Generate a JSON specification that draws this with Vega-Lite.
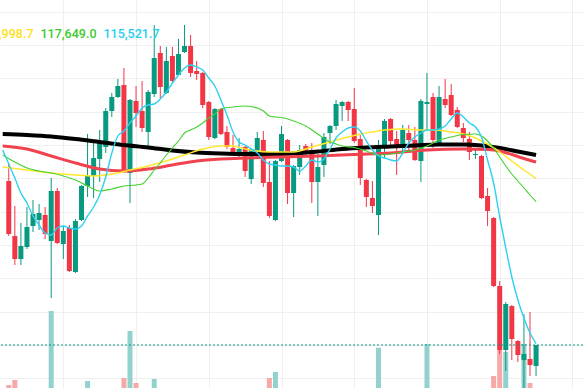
{
 "$schema": "https://vega.github.io/schema/vega-lite/v6.json",
 "width": 583, "height": 388, "padding": 0,
 "autosize": {"type": "none"},
 "background": "#FFFFFF",
 "config": {"view": {"stroke": null}, "axis": {"title": null, "labels": false, "ticks": false, "domain": false, "gridColor": "#EFEFEF", "gridWidth": 1}},
 "datasets": {
  "candles": [
   {"i":3,"o":117960,"h":118230,"l":117135,"c":117165,"v":1060},
   {"i":4,"o":117135,"h":117585,"l":116700,"c":116790,"v":1160},
   {"i":5,"o":116790,"h":117330,"l":116700,"c":116985,"v":700},
   {"i":6,"o":116970,"h":117570,"l":116940,"c":117270,"v":650},
   {"i":7,"o":117285,"h":117675,"l":117195,"c":117465,"v":600},
   {"i":8,"o":117375,"h":117615,"l":117225,"c":117480,"v":550},
   {"i":9,"o":117450,"h":117570,"l":117090,"c":117165,"v":620},
   {"i":10,"o":117060,"h":118005,"l":116205,"c":117810,"v":2540},
   {"i":11,"o":117810,"h":117855,"l":117015,"c":117030,"v":900},
   {"i":12,"o":117015,"h":117285,"l":116790,"c":117210,"v":700},
   {"i":13,"o":117255,"h":117300,"l":116595,"c":116610,"v":850},
   {"i":14,"o":116595,"h":117390,"l":116580,"c":117360,"v":950},
   {"i":15,"o":117375,"h":117900,"l":117360,"c":117885,"v":900},
   {"i":16,"o":117885,"h":118665,"l":117720,"c":118035,"v":1140},
   {"i":17,"o":118035,"h":118545,"l":117705,"c":118305,"v":800},
   {"i":18,"o":118290,"h":118725,"l":117945,"c":118530,"v":750},
   {"i":19,"o":118470,"h":119055,"l":118380,"c":119010,"v":950},
   {"i":20,"o":119010,"h":119280,"l":118920,"c":119220,"v":700},
   {"i":21,"o":119220,"h":119490,"l":119205,"c":119385,"v":650},
   {"i":22,"o":119400,"h":119655,"l":118095,"c":118110,"v":1200},
   {"i":23,"o":118080,"h":119190,"l":117630,"c":119175,"v":2140},
   {"i":24,"o":119160,"h":119385,"l":118770,"c":118980,"v":1100},
   {"i":25,"o":119010,"h":119460,"l":118695,"c":118755,"v":800},
   {"i":26,"o":118695,"h":119325,"l":118470,"c":119295,"v":850},
   {"i":27,"o":119265,"h":120300,"l":119220,"c":119805,"v":1180},
   {"i":28,"o":119880,"h":119985,"l":119190,"c":119370,"v":900},
   {"i":29,"o":119280,"h":119970,"l":119265,"c":119760,"v":700},
   {"i":30,"o":119835,"h":119970,"l":119430,"c":119460,"v":650},
   {"i":31,"o":119550,"h":120090,"l":119535,"c":119865,"v":600},
   {"i":32,"o":119895,"h":120300,"l":119880,"c":119985,"v":750},
   {"i":33,"o":119985,"h":120150,"l":119520,"c":119580,"v":800},
   {"i":34,"o":119610,"h":119760,"l":119475,"c":119565,"v":500},
   {"i":35,"o":119580,"h":119595,"l":119055,"c":119100,"v":650},
   {"i":36,"o":119145,"h":119160,"l":118575,"c":118620,"v":850},
   {"i":37,"o":118605,"h":119055,"l":118590,"c":119040,"v":700},
   {"i":38,"o":119040,"h":119055,"l":118650,"c":118665,"v":600},
   {"i":39,"o":118695,"h":118785,"l":118440,"c":118470,"v":550},
   {"i":40,"o":118455,"h":118650,"l":118380,"c":118380,"v":450},
   {"i":41,"o":118380,"h":118605,"l":118290,"c":118440,"v":400},
   {"i":42,"o":118470,"h":118485,"l":118020,"c":118110,"v":600},
   {"i":43,"o":117990,"h":118455,"l":117915,"c":118440,"v":650},
   {"i":44,"o":118395,"h":118695,"l":118305,"c":118605,"v":500},
   {"i":45,"o":118575,"h":118710,"l":117870,"c":117930,"v":800},
   {"i":46,"o":117945,"h":118260,"l":117405,"c":117435,"v":1200},
   {"i":47,"o":117375,"h":118275,"l":117360,"c":118260,"v":1320},
   {"i":48,"o":118260,"h":118785,"l":118245,"c":118665,"v":850},
   {"i":49,"o":118575,"h":118590,"l":117615,"c":117780,"v":900},
   {"i":50,"o":117780,"h":118200,"l":117420,"c":118185,"v":750},
   {"i":51,"o":118170,"h":118500,"l":118050,"c":118425,"v":500},
   {"i":52,"o":118485,"h":118515,"l":118320,"c":118410,"v":400},
   {"i":53,"o":118425,"h":118530,"l":117630,"c":117945,"v":700},
   {"i":54,"o":117945,"h":118365,"l":117435,"c":118170,"v":650},
   {"i":55,"o":118200,"h":118680,"l":118020,"c":118620,"v":700},
   {"i":56,"o":118680,"h":118800,"l":118515,"c":118785,"v":450},
   {"i":57,"o":118785,"h":119175,"l":118725,"c":119115,"v":650},
   {"i":58,"o":119085,"h":119160,"l":118860,"c":119145,"v":500},
   {"i":59,"o":119145,"h":119160,"l":118860,"c":119025,"v":450},
   {"i":60,"o":119040,"h":119355,"l":118530,"c":118560,"v":800},
   {"i":61,"o":118590,"h":118650,"l":117900,"c":118005,"v":850},
   {"i":62,"o":117975,"h":117990,"l":117570,"c":117720,"v":600},
   {"i":63,"o":117705,"h":117960,"l":117480,"c":117585,"v":550},
   {"i":64,"o":117450,"h":118575,"l":117150,"c":118485,"v":1806},
   {"i":65,"o":118455,"h":118890,"l":118305,"c":118860,"v":800},
   {"i":66,"o":118890,"h":118905,"l":118500,"c":118560,"v":600},
   {"i":67,"o":118590,"h":118710,"l":118050,"c":118455,"v":650},
   {"i":68,"o":118455,"h":118800,"l":118380,"c":118725,"v":550},
   {"i":69,"o":118680,"h":118800,"l":118425,"c":118575,"v":450},
   {"i":70,"o":118575,"h":118770,"l":118260,"c":118275,"v":600},
   {"i":71,"o":118260,"h":119190,"l":117945,"c":119160,"v":950},
   {"i":72,"o":119115,"h":119580,"l":118725,"c":119145,"v":1880},
   {"i":73,"o":119220,"h":119280,"l":118455,"c":118575,"v":900},
   {"i":74,"o":118530,"h":119385,"l":118515,"c":119220,"v":850},
   {"i":75,"o":119190,"h":119490,"l":119055,"c":119100,"v":550},
   {"i":76,"o":119250,"h":119415,"l":118935,"c":118950,"v":600},
   {"i":77,"o":119025,"h":119070,"l":118755,"c":118770,"v":500},
   {"i":78,"o":118755,"h":118830,"l":118545,"c":118605,"v":450},
   {"i":79,"o":118590,"h":118695,"l":118275,"c":118395,"v":550},
   {"i":80,"o":118350,"h":118455,"l":118290,"c":118365,"v":400},
   {"i":81,"o":118335,"h":118350,"l":117690,"c":117705,"v":950},
   {"i":82,"o":117735,"h":117855,"l":117285,"c":117510,"v":700},
   {"i":83,"o":117405,"h":117420,"l":116370,"c":116385,"v":1240},
   {"i":84,"o":116385,"h":116460,"l":115365,"c":115425,"v":1760},
   {"i":85,"o":115425,"h":116145,"l":115110,"c":116115,"v":1720},
   {"i":86,"o":116085,"h":116100,"l":115275,"c":115590,"v":950},
   {"i":87,"o":115560,"h":115575,"l":115245,"c":115350,"v":800},
   {"i":88,"o":115275,"h":115965,"l":114800,"c":115365,"v":1880},
   {"i":89,"o":115290,"h":115995,"l":115035,"c":115200,"v":1100},
   {"i":90,"o":115185,"h":115500,"l":115035,"c":115500,"v":600}
  ],
  "ma": [
   {"s":"MA200","i":2,"p":118665},{"s":"MA200","i":6,"p":118650},{"s":"MA200","i":10,"p":118627.5},{"s":"MA200","i":14,"p":118590},{"s":"MA200","i":18,"p":118545},{"s":"MA200","i":22,"p":118500},{"s":"MA200","i":26,"p":118462.5},{"s":"MA200","i":30,"p":118417.5},{"s":"MA200","i":34,"p":118387.5},{"s":"MA200","i":38,"p":118372.5},{"s":"MA200","i":42,"p":118365},{"s":"MA200","i":46,"p":118365},{"s":"MA200","i":50,"p":118372.5},{"s":"MA200","i":54,"p":118402.5},{"s":"MA200","i":58,"p":118440},{"s":"MA200","i":62,"p":118462.5},{"s":"MA200","i":66,"p":118477.5},{"s":"MA200","i":70,"p":118492.5},{"s":"MA200","i":74,"p":118507.5},{"s":"MA200","i":78,"p":118507.5},{"s":"MA200","i":81,"p":118492.5},{"s":"MA200","i":84,"p":118455},{"s":"MA200","i":87,"p":118402.5},{"s":"MA200","i":90,"p":118350.4},
   {"s":"MA100","i":2,"p":118485},{"s":"MA100","i":6,"p":118440},{"s":"MA100","i":10,"p":118335},{"s":"MA100","i":14,"p":118230},{"s":"MA100","i":18,"p":118140},{"s":"MA100","i":22,"p":118110},{"s":"MA100","i":26,"p":118140},{"s":"MA100","i":30,"p":118200},{"s":"MA100","i":34,"p":118260},{"s":"MA100","i":38,"p":118290},{"s":"MA100","i":42,"p":118305},{"s":"MA100","i":48,"p":118320},{"s":"MA100","i":54,"p":118335},{"s":"MA100","i":60,"p":118357.5},{"s":"MA100","i":66,"p":118380},{"s":"MA100","i":72,"p":118425},{"s":"MA100","i":78,"p":118440},{"s":"MA100","i":82,"p":118432.5},{"s":"MA100","i":84,"p":118410},{"s":"MA100","i":86,"p":118357.5},{"s":"MA100","i":88,"p":118297.5},{"s":"MA100","i":90,"p":118245.2},
   {"s":"MA50","i":2,"p":118170},{"s":"MA50","i":6,"p":118125},{"s":"MA50","i":10,"p":118080},{"s":"MA50","i":14,"p":118050},{"s":"MA50","i":17,"p":118035},{"s":"MA50","i":20,"p":118065},{"s":"MA50","i":23,"p":118125},{"s":"MA50","i":26,"p":118185},{"s":"MA50","i":29,"p":118260},{"s":"MA50","i":32,"p":118350},{"s":"MA50","i":35,"p":118440},{"s":"MA50","i":38,"p":118485},{"s":"MA50","i":40,"p":118485},{"s":"MA50","i":42,"p":118440},{"s":"MA50","i":46,"p":118395},{"s":"MA50","i":50,"p":118395},{"s":"MA50","i":53,"p":118470},{"s":"MA50","i":56,"p":118545},{"s":"MA50","i":59,"p":118620},{"s":"MA50","i":61,"p":118665},{"s":"MA50","i":63,"p":118695},{"s":"MA50","i":65,"p":118725},{"s":"MA50","i":68,"p":118740},{"s":"MA50","i":71,"p":118725},{"s":"MA50","i":73,"p":118725},{"s":"MA50","i":76,"p":118695},{"s":"MA50","i":78,"p":118665},{"s":"MA50","i":80,"p":118605},{"s":"MA50","i":81,"p":118560},{"s":"MA50","i":82,"p":118515},{"s":"MA50","i":84,"p":118395},{"s":"MA50","i":86,"p":118260},{"s":"MA50","i":88,"p":118125},{"s":"MA50","i":90,"p":117998.7},
   {"s":"MA25","i":2,"p":118350},{"s":"MA25","i":4,"p":118245},{"s":"MA25","i":6,"p":118155},{"s":"MA25","i":8,"p":118110},{"s":"MA25","i":10,"p":118080},{"s":"MA25","i":12,"p":118035},{"s":"MA25","i":14,"p":117975},{"s":"MA25","i":16,"p":117885},{"s":"MA25","i":18,"p":117810},{"s":"MA25","i":20,"p":117840},{"s":"MA25","i":22,"p":117885},{"s":"MA25","i":24,"p":117900},{"s":"MA25","i":25,"p":117915},{"s":"MA25","i":26,"p":118005},{"s":"MA25","i":27,"p":118125},{"s":"MA25","i":28,"p":118230},{"s":"MA25","i":29,"p":118350},{"s":"MA25","i":30,"p":118455},{"s":"MA25","i":31,"p":118560},{"s":"MA25","i":32,"p":118680},{"s":"MA25","i":33,"p":118725},{"s":"MA25","i":34,"p":118770},{"s":"MA25","i":35,"p":118830},{"s":"MA25","i":36,"p":118905},{"s":"MA25","i":37,"p":118965},{"s":"MA25","i":38,"p":119040},{"s":"MA25","i":40,"p":119070},{"s":"MA25","i":42,"p":119085},{"s":"MA25","i":44,"p":119055},{"s":"MA25","i":45,"p":119010},{"s":"MA25","i":46,"p":118935},{"s":"MA25","i":47,"p":118920},{"s":"MA25","i":48,"p":118912.5},{"s":"MA25","i":50,"p":118860},{"s":"MA25","i":52,"p":118785},{"s":"MA25","i":54,"p":118665},{"s":"MA25","i":56,"p":118545},{"s":"MA25","i":57,"p":118515},{"s":"MA25","i":58,"p":118485},{"s":"MA25","i":60,"p":118462.5},{"s":"MA25","i":62,"p":118410},{"s":"MA25","i":64,"p":118350},{"s":"MA25","i":66,"p":118365},{"s":"MA25","i":68,"p":118395},{"s":"MA25","i":70,"p":118425},{"s":"MA25","i":72,"p":118485},{"s":"MA25","i":74,"p":118575},{"s":"MA25","i":76,"p":118620},{"s":"MA25","i":78,"p":118657.5},{"s":"MA25","i":80,"p":118665},{"s":"MA25","i":81,"p":118635},{"s":"MA25","i":82,"p":118560},{"s":"MA25","i":83,"p":118455},{"s":"MA25","i":84,"p":118320},{"s":"MA25","i":85,"p":118185},{"s":"MA25","i":86,"p":118065},{"s":"MA25","i":87,"p":117960},{"s":"MA25","i":88,"p":117855},{"s":"MA25","i":89,"p":117750},{"s":"MA25","i":90,"p":117649},
   {"s":"MA7","i":2,"p":118425},{"s":"MA7","i":3,"p":118215},{"s":"MA7","i":4,"p":118005},{"s":"MA7","i":5,"p":117780},{"s":"MA7","i":6,"p":117630},{"s":"MA7","i":7,"p":117435},{"s":"MA7","i":8,"p":117300},{"s":"MA7","i":9,"p":117180},{"s":"MA7","i":10,"p":117150},{"s":"MA7","i":11,"p":117255},{"s":"MA7","i":12,"p":117285},{"s":"MA7","i":13,"p":117255},{"s":"MA7","i":14,"p":117240},{"s":"MA7","i":15,"p":117285},{"s":"MA7","i":16,"p":117435},{"s":"MA7","i":17,"p":117570},{"s":"MA7","i":18,"p":117750},{"s":"MA7","i":19,"p":118020},{"s":"MA7","i":20,"p":118380},{"s":"MA7","i":21,"p":118635},{"s":"MA7","i":22,"p":118710},{"s":"MA7","i":23,"p":118830},{"s":"MA7","i":24,"p":118935},{"s":"MA7","i":25,"p":119055},{"s":"MA7","i":26,"p":119100},{"s":"MA7","i":27,"p":119115},{"s":"MA7","i":28,"p":119190},{"s":"MA7","i":29,"p":119295},{"s":"MA7","i":30,"p":119430},{"s":"MA7","i":31,"p":119550},{"s":"MA7","i":32,"p":119655},{"s":"MA7","i":33,"p":119700},{"s":"MA7","i":34,"p":119670},{"s":"MA7","i":35,"p":119625},{"s":"MA7","i":36,"p":119505},{"s":"MA7","i":37,"p":119385},{"s":"MA7","i":38,"p":119175},{"s":"MA7","i":39,"p":118950},{"s":"MA7","i":40,"p":118695},{"s":"MA7","i":41,"p":118545},{"s":"MA7","i":42,"p":118500},{"s":"MA7","i":43,"p":118440},{"s":"MA7","i":44,"p":118380},{"s":"MA7","i":45,"p":118275},{"s":"MA7","i":46,"p":118215},{"s":"MA7","i":47,"p":118200},{"s":"MA7","i":48,"p":118185},{"s":"MA7","i":49,"p":118185},{"s":"MA7","i":50,"p":118170},{"s":"MA7","i":51,"p":118110},{"s":"MA7","i":52,"p":118185},{"s":"MA7","i":53,"p":118275},{"s":"MA7","i":54,"p":118245},{"s":"MA7","i":55,"p":118290},{"s":"MA7","i":56,"p":118440},{"s":"MA7","i":57,"p":118605},{"s":"MA7","i":58,"p":118695},{"s":"MA7","i":59,"p":118755},{"s":"MA7","i":60,"p":118770},{"s":"MA7","i":61,"p":118710},{"s":"MA7","i":62,"p":118560},{"s":"MA7","i":63,"p":118425},{"s":"MA7","i":64,"p":118335},{"s":"MA7","i":65,"p":118305},{"s":"MA7","i":66,"p":118275},{"s":"MA7","i":67,"p":118260},{"s":"MA7","i":68,"p":118380},{"s":"MA7","i":69,"p":118530},{"s":"MA7","i":70,"p":118620},{"s":"MA7","i":71,"p":118680},{"s":"MA7","i":72,"p":118725},{"s":"MA7","i":73,"p":118725},{"s":"MA7","i":74,"p":118740},{"s":"MA7","i":75,"p":118785},{"s":"MA7","i":76,"p":118890},{"s":"MA7","i":77,"p":118980},{"s":"MA7","i":78,"p":118920},{"s":"MA7","i":79,"p":118830},{"s":"MA7","i":80,"p":118770},{"s":"MA7","i":81,"p":118620},{"s":"MA7","i":82,"p":118275},{"s":"MA7","i":83,"p":117930},{"s":"MA7","i":84,"p":117420},{"s":"MA7","i":85,"p":116955},{"s":"MA7","i":86,"p":116520},{"s":"MA7","i":87,"p":116175},{"s":"MA7","i":88,"p":115905},{"s":"MA7","i":89,"p":115680},{"s":"MA7","i":90,"p":115521.7}
  ]
 },
 "layer": [
  {
   "data": {"name": "candles"},
   "mark": {"type": "bar", "size": 5},
   "encoding": {
    "x": {"field": "i", "type": "quantitative", "scale": {"domain": [2.378, 96.92], "nice": false, "zero": false}, "axis": {"values": [12,24,36,48,60,72,84,96], "grid": true}},
    "y": {"field": "v", "type": "quantitative", "scale": {"domain": [1000, 8760], "nice": false, "zero": false}, "axis": null},
    "y2": {"datum": 0},
    "color": {"condition": {"test": "datum.c >= datum.o", "value": "#92D2CC"}, "value": "#F7A9A7"}
   }
  },
  {
   "layer": [
    {
     "data": {"name": "candles"},
     "mark": {"type": "rule", "strokeWidth": 1},
     "encoding": {
      "x": {"field": "i", "type": "quantitative", "scale": {"domain": [2.378, 96.92], "nice": false, "zero": false}, "axis": {"values": [12,24,36,48,60,72,84,96], "grid": true}},
      "y": {"field": "l", "type": "quantitative", "scale": {"domain": [114855, 120675], "nice": false, "zero": false}, "axis": {"values": [115000,115500,116000,116500,117000,117500,118000,118500,119000,119500,120000,120500], "grid": true}},
      "y2": {"field": "h"},
      "color": {"condition": {"test": "datum.c >= datum.o", "value": "#089981"}, "value": "#F23645"}
     }
    },
    {
     "data": {"name": "candles"},
     "mark": {"type": "bar", "size": 5},
     "encoding": {
      "x": {"field": "i", "type": "quantitative", "scale": {"domain": [2.378, 96.92], "nice": false, "zero": false}, "axis": {"values": [12,24,36,48,60,72,84,96], "grid": true}},
      "y": {"field": "o", "type": "quantitative", "axis": {"values": [115000,115500,116000,116500,117000,117500,118000,118500,119000,119500,120000,120500], "grid": true}},
      "y2": {"field": "c"},
      "color": {"condition": {"test": "datum.c >= datum.o", "value": "#089981"}, "value": "#F23645"}
     }
    },
    {
     "data": {"name": "ma"},
     "mark": {"type": "line", "interpolate": "monotone"},
     "encoding": {
      "x": {"field": "i", "type": "quantitative", "scale": {"domain": [2.378, 96.92], "nice": false, "zero": false}, "axis": {"values": [12,24,36,48,60,72,84,96], "grid": true}},
      "y": {"field": "p", "type": "quantitative", "axis": {"values": [115000,115500,116000,116500,117000,117500,118000,118500,119000,119500,120000,120500], "grid": true}},
      "color": {"field": "s", "type": "nominal",
       "scale": {"domain": ["MA200","MA100","MA50","MA25","MA7"], "range": ["#000000","#F0424F","#FFE72E","#43D12E","#2ED0F2"]},
       "legend": {"orient": "none", "legendX": -145, "legendY": 27.5, "direction": "horizontal", "columns": 5, "title": null,
        "symbolSize": 0, "symbolOpacity": 0, "symbolStrokeWidth": 0, "labelOffset": -16, "columnPadding": 6, "padding": 0,
        "labelFont": "Roboto", "labelFontSize": 12.5, "labelFontWeight": 500, "labelBaseline": "middle",
        "labelExpr": "datum.value==='MA200'?'118,350.4':datum.value==='MA100'?'118,245.2':datum.value==='MA50'?'117,998.7':datum.value==='MA25'?'117,649.0':'115,521.7'",
        "labelColor": {"expr": "datum.value==='MA200'?'#000000':datum.value==='MA100'?'#F0424F':datum.value==='MA50'?'#FFE01A':datum.value==='MA25'?'#3CCB2C':'#22CFF0'"}}},
      "strokeWidth": {"condition": [{"test": "datum.s==='MA200'", "value": 4}, {"test": "datum.s==='MA100'", "value": 3}, {"test": "datum.s==='MA50'", "value": 1.5}, {"test": "datum.s==='MA25'", "value": 1.1}], "value": 1.4}
     }
    },
    {
     "data": {"name": "candles"},
     "transform": [{"filter": "datum.i == 90"}],
     "mark": {"type": "rule", "strokeDash": [2, 2], "strokeWidth": 1, "color": "#089981"},
     "encoding": {
      "y": {"field": "c", "type": "quantitative", "axis": {"values": [115000,115500,116000,116500,117000,117500,118000,118500,119000,119500,120000,120500], "grid": true}}
     }
    }
   ]
  }
 ],
 "resolve": {"scale": {"y": "independent"}}
}
